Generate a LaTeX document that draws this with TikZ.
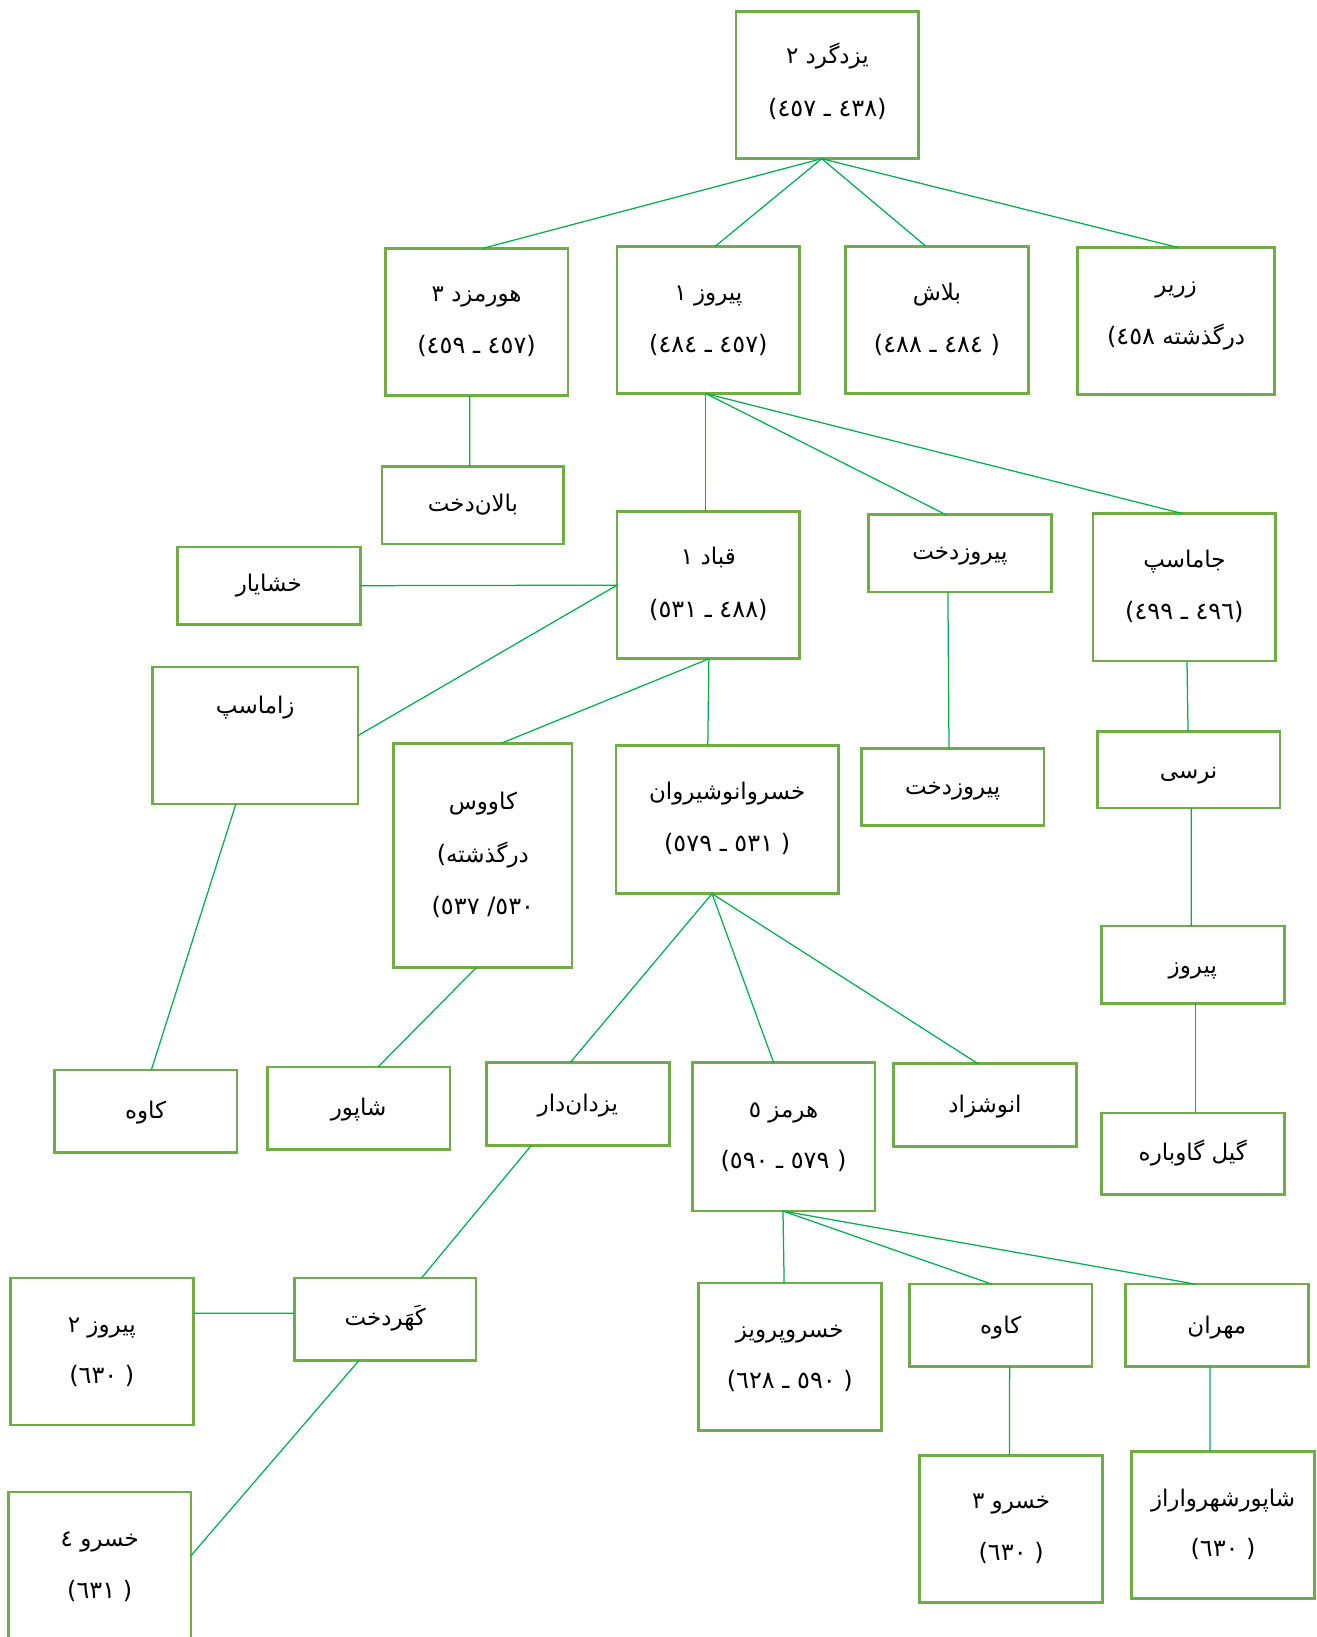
\documentclass[tikz,border=0pt]{standalone}
\usepackage{fontspec}
\TeXXeTstate=1
\newfontfamily\ar[Script=Arabic]{DejaVu Sans}
\newfontfamily\arnum{DejaVu Sans}
\usetikzlibrary{calc}
\definecolor{boxg}{HTML}{70AD47}
\definecolor{lineg}{HTML}{00B050}
\tikzset{
  box/.style={draw=boxg, line width=2.6pt, inner sep=0pt, outer sep=0pt, rectangle},
  txt/.style={font=\ar\fontsize{22}{26}\selectfont, inner sep=0pt, text height=16pt, text depth=6pt, anchor=center},
  link/.style={draw=lineg, line width=1.2pt},
}
\newcommand\mybox[5]{\node[box, minimum width={(#4-#2)*1pt}, minimum height={(#5-#3)*1pt}] (#1) at ({(#2+#4)/2},{(#3+#5)/2}) {};}
\newcommand\tx[4]{\node[txt] (#1) at ($(#2.north)+(0,#3+3)$) {#4};}
\newcommand\num[1]{{\arnum\fontsize{23}{26}\selectfont\beginL #1\endL}}
\newcommand\conn[6]{\draw[link] ($(#1.#2 west)!#3!(#1.#2 east)$) -- ($(#4.#5 west)!#6!(#4.#5 east)$);}
\begin{document}
\begin{tikzpicture}[x=1pt,y=-1pt]
\useasboundingbox (0,0) rectangle (1261,1568);
% boxes
\mybox{yazd}{705}{11}{880}{152}
\mybox{hormozd}{369}{238}{544}{379}
\mybox{piruzA}{591}{236}{766}{377}
\mybox{balash}{810}{236}{985}{377}
\mybox{zarir}{1032}{237}{1221}{378}
\mybox{balan}{366}{447}{540}{521}
\mybox{khashayar}{170}{524}{345}{598}
\mybox{qobad}{591}{490}{766}{631}
\mybox{pdA}{832}{493}{1007}{567}
\mybox{jamasp}{1047}{492}{1222}{633}
\mybox{zamasp}{146}{639}{343}{770}
\mybox{kavus}{377}{712}{548}{927}
\mybox{ka}{590}{714}{803}{856}
\mybox{pdB}{825}{717}{1000}{791}
\mybox{narsi}{1051}{701}{1226}{774}
\mybox{piruzB}{1055}{887}{1230}{961}
\mybox{kavehA}{52}{1025}{227}{1104}
\mybox{shapur}{256}{1022}{431}{1101}
\mybox{yazdandar}{466}{1018}{641}{1097}
\mybox{hormoz}{663}{1018}{838}{1160}
\mybox{anushzad}{856}{1019}{1031}{1098}
\mybox{gil}{1055}{1066}{1230}{1144}
\mybox{piruzC}{10}{1224}{185}{1365}
\mybox{kahar}{282}{1224}{456}{1303}
\mybox{parviz}{669}{1229}{844}{1370}
\mybox{kavehB}{871}{1230}{1046}{1309}
\mybox{mehran}{1078}{1230}{1253}{1309}
\mybox{khosrowB}{881}{1394}{1056}{1535}
\mybox{shapurshahr}{1084}{1390}{1259}{1531}
\mybox{khosrowC}{8}{1429}{183}{1590}
% texts
\tx{yazdT}{yazd}{42}{\beginR یزدگرد ٢\endR}
\tx{yazdD}{yazd}{93}{\num{(٤٥٧ ـ ٤٣٨)}}
\tx{hormozdT}{hormozd}{43}{\beginR هورمزد ٣\endR}
\tx{hormozdD}{hormozd}{93}{\num{(٤٥٩ ـ ٤٥٧)}}
\tx{piruzAT}{piruzA}{44}{\beginR پیروز ١\endR}
\tx{piruzAD}{piruzA}{94}{\num{(٤٨٤ ـ ٤٥٧)}}
\tx{balashT}{balash}{44}{بلاش}
\tx{balashD}{balash}{94}{\num{(٤٨٨ ـ ٤٨٤ )}}
\tx{zarirT}{zarir}{35}{زریر}
\tx{zarirD}{zarir}{85}{\beginL\num{(٤٥٨} درگذشته\endL}
\tx{balanT}{balan}{35}{بالان‌دخت}
\tx{khashayarT}{khashayar}{35}{خشایار}
\tx{qobadT}{qobad}{43}{\beginR قباد ١\endR}
\tx{qobadD}{qobad}{93}{\num{(٥٣١ ـ ٤٨٨)}}
\tx{pdAT}{pdA}{35}{پیروزدخت}
\tx{jamaspT}{jamasp}{44}{جاماسپ}
\tx{jamaspD}{jamasp}{93}{\num{(٤٩٩ ـ ٤٩٦)}}
\tx{zamaspT}{zamasp}{36}{زاماسپ}
\tx{kavusT}{kavus}{55}{کاووس}
\tx{kavusD}{kavus}{106}{\beginL\num{(}درگذشته\endL}
\tx{kavusE}{kavus}{156}{\num{(٥٣٧ /٥٣٠}}
\tx{kaT}{ka}{44}{خسروانوشیروان}
\tx{kaD}{ka}{94}{\num{(٥٧٩ ـ ٥٣١ )}}
\tx{pdBT}{pdB}{36}{پیروزدخت}
\tx{narsiT}{narsi}{37}{نرسی}
\tx{piruzBT}{piruzB}{37}{پیروز}
\tx{kavehAT}{kavehA}{38}{کاوه}
\tx{shapurT}{shapur}{38}{شاپور}
\tx{yazdandarT}{yazdandar}{39}{یزدان‌دار}
\tx{hormozT}{hormoz}{44}{\beginR هرمز ٥\endR}
\tx{hormozD}{hormoz}{93}{\num{(٥٩٠ ـ ٥٧٩ )}}
\tx{anushzadT}{anushzad}{39}{انوشزاد}
\tx{gilT}{gil}{38}{\beginR گیل گاوباره\endR}
\tx{piruzCT}{piruzC}{44}{\beginR پیروز ٢\endR}
\tx{piruzCD}{piruzC}{93}{\num{(٦٣٠ )}}
\tx{kaharT}{kahar}{38}{کَهَردخت}
\tx{parvizT}{parviz}{44}{خسروپرویز}
\tx{parvizD}{parviz}{93}{\num{(٦٢٨ ـ ٥٩٠ )}}
\tx{kavehBT}{kavehB}{39}{کاوه}
\tx{mehranT}{mehran}{39}{مهران}
\tx{khosrowBT}{khosrowB}{43}{\beginR خسرو ٣\endR}
\tx{khosrowBD}{khosrowB}{93}{\num{(٦٣٠ )}}
\tx{shapurshahrT}{shapurshahr}{45}{شاپورشهرواراز}
\tx{shapurshahrD}{shapurshahr}{93}{\num{(٦٣٠ )}}
\tx{khosrowCT}{khosrowC}{44}{\beginR خسرو ٤\endR}
\tx{khosrowCD}{khosrowC}{94}{\num{(٦٣١ )}}
% connectors
\conn{yazd}{south}{0.469}{hormozd}{north}{0.531}
\conn{yazd}{south}{0.469}{piruzA}{north}{0.537}
\conn{yazd}{south}{0.469}{balash}{north}{0.44}
\conn{yazd}{south}{0.469}{zarir}{north}{0.508}
\conn{hormozd}{south}{0.463}{balan}{north}{0.483}
\conn{piruzA}{south}{0.486}{qobad}{north}{0.486}
\conn{piruzA}{south}{0.486}{pdA}{north}{0.423}
\conn{piruzA}{south}{0.486}{jamasp}{north}{0.491}
\draw[link] (qobad.west) -- (khashayar.east);
\draw[link] (qobad.west) -- (zamasp.east);
\conn{qobad}{south}{0.503}{kavus}{north}{0.602}
\conn{qobad}{south}{0.503}{ka}{north}{0.413}
\conn{pdA}{south}{0.434}{pdB}{north}{0.48}
\conn{jamasp}{south}{0.514}{narsi}{north}{0.497}
\conn{narsi}{south}{0.514}{piruzB}{north}{0.491}
\conn{piruzB}{south}{0.514}{gil}{north}{0.514}
\conn{zamasp}{south}{0.406}{kavehA}{north}{0.531}
\conn{kavus}{south}{0.462}{shapur}{north}{0.606}
\conn{ka}{south}{0.432}{yazdandar}{north}{0.457}
\conn{ka}{south}{0.432}{hormoz}{north}{0.446}
\conn{ka}{south}{0.432}{anushzad}{north}{0.463}
\conn{yazdandar}{south}{0.246}{kahar}{north}{0.70}
\draw[link] ($(kahar.north west)!0.43!(kahar.south west)$) -- ($(piruzC.north east)!0.24!(piruzC.south east)$);
\draw[link] ($(kahar.south west)!0.356!(kahar.south east)$) -- ($(khosrowC.north east)+(0,61)$);
\conn{hormoz}{south}{0.497}{parviz}{north}{0.469}
\conn{hormoz}{south}{0.497}{kavehB}{north}{0.451}
\conn{hormoz}{south}{0.497}{mehran}{north}{0.383}
\conn{kavehB}{south}{0.549}{khosrowB}{north}{0.491}
\conn{mehran}{south}{0.463}{shapurshahr}{north}{0.429}
\end{tikzpicture}
\end{document}
